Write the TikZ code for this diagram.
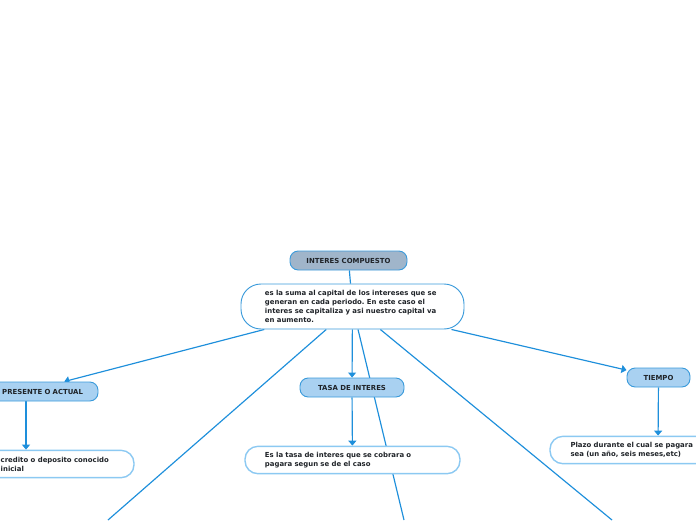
\documentclass[tikz,border=0pt]{standalone}
\usepackage{fontspec}
\setmainfont{DejaVu Sans}
\frenchspacing
\usetikzlibrary{arrows.meta,positioning,backgrounds}
\definecolor{ink}{HTML}{1F2328}
\definecolor{wire}{HTML}{1E8FDB}
\definecolor{rim}{HTML}{3B9BDB}
\definecolor{slatebox}{HTML}{A0B5CA}
\definecolor{topicfill}{HTML}{A9D1F1}
\definecolor{softrim}{HTML}{8CC9F2}
\newcommand{\mapfont}{\fontsize{5.9}{7.8}\selectfont\bfseries}
\tikzset{
  root/.style={draw=rim,fill=slatebox,rounded corners=7pt,line width=0.8pt,minimum width=3.51cm,minimum height=0.57cm,font=\mapfont,text=ink},
  topic/.style={draw=rim,fill=topicfill,rounded corners=7pt,line width=0.8pt,minimum width=#1,minimum height=0.57cm,font=\mapfont,text=ink},
  summary/.style={draw=rim,fill=white,rounded corners=17pt,line width=0.8pt,minimum width=6.69cm,minimum height=1.35cm,text width=5.25cm,align=left,font=\mapfont,text=ink},
  note/.style={draw=softrim,fill=white,rounded corners=11pt,line width=1.2pt,minimum width=#1,minimum height=0.82cm,font=\mapfont,text=ink},
  notetext/.style={align=left,inner sep=0pt,font=\mapfont,text=ink},
  link/.style={draw=wire,line width=1pt},
  flow/.style={link,-{Triangle[width=0.24cm,length=0.15cm]}}
}

\begin{document}
\begin{tikzpicture}[x=0.03cm,y=-0.03cm]
  \clip (0,0) rectangle (696,520);
  % centre of the map
  \node[root] (title) at (348.5,260.5) {INTERES COMPUESTO};
  \node[summary] (main) at (352.5,306.5) {es la suma al capital de los intereses que se\\generan en cada periodo. En este caso el\\interes se capitaliza y asi nuestro capital va\\en aumento.};
  % branches
  \node[topic=4.32cm,text width=3.42cm,align=right] (pres) at (26,391.5) {PRESENTE O ACTUAL};
  \node[topic=3.12cm] (tasa) at (352,387.5) {TASA DE INTERES};
  \node[topic=1.89cm] (tiempo) at (658.5,377.5) {TIEMPO};
  % notes
  \node[note=6.48cm] (presnote) at (26,464) {};
  \node[notetext,anchor=west] (presnotetext) at (0.5,464.5) {credito o deposito conocido\\inicial};
  \node[note=6.45cm,text width=5.25cm,align=left] (tasanote) at (352.5,460) {Es la tasa de interes que se cobrara o\\pagara segun se de el caso};
  \node[note=6.48cm,text width=5.25cm,align=left] (tiemponote) at (658,450) {Plazo durante el cual se pagara\\sea (un año, seis meses,etc)};
  % branches running off the page
  \coordinate (offleft) at (108,520);
  \coordinate (offmid) at (404,520);
  \coordinate (offright) at (612,520);
  \begin{pgfonlayer}{background}
    \draw[link] (title) -- (main);
    \draw[flow] (main) -- (pres);
    \draw[flow] (main) -- (tasa);
    \draw[flow] (main) -- (tiempo);
    \draw[flow] (pres) -- (presnote);
    \draw[flow] (tasa) -- (tasanote);
    \draw[flow] (tiempo) -- (tiemponote);
    \draw[link] (main) -- (offleft);
    \draw[link] (main) -- (offmid);
    \draw[link] (main) -- (offright);
  \end{pgfonlayer}
\end{tikzpicture}
\end{document}
